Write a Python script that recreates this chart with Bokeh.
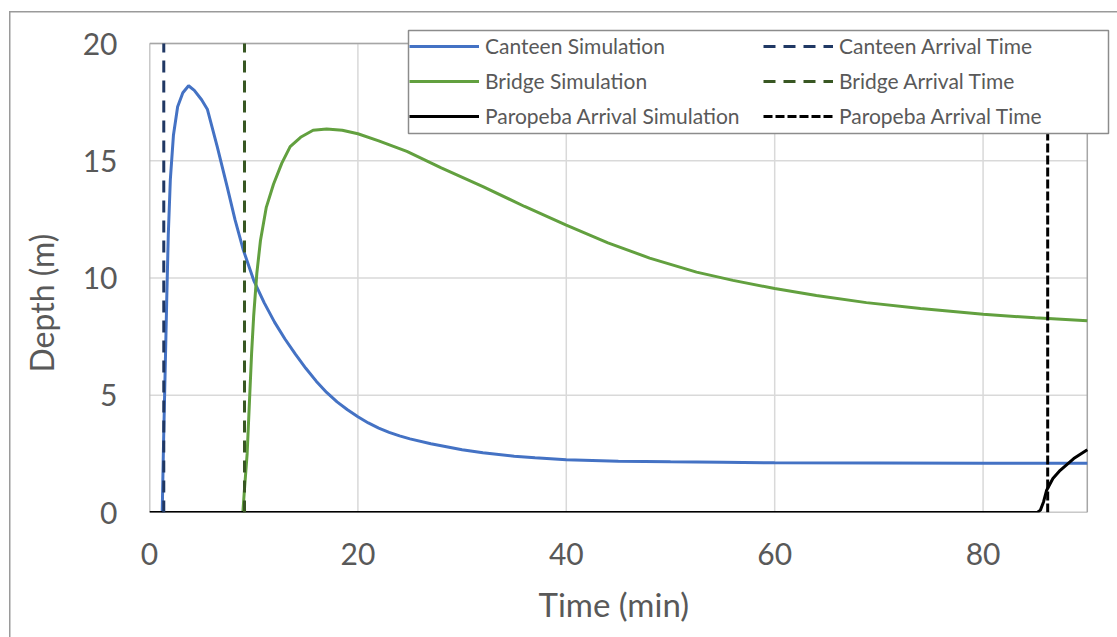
from bokeh.plotting import figure
from bokeh.models import Legend, LegendItem, Range1d, FixedTicker, BoxAnnotation, Title
from bokeh.embed import file_html
from bokeh.resources import INLINE

# ---- data ----
canteen_t = [1.22, 1.35, 1.5, 1.65, 1.8, 2.0, 2.3, 2.7, 3.2, 3.75, 4.3, 5.0, 5.55, 6.5, 7.45, 8.2, 9.0,
             10.0, 11.0, 12.0, 13.0, 14.0, 15.0, 16.0, 17.0, 18.0, 19.0, 20.0, 21.0, 22.0, 23.0, 24.0,
             25.0, 27.0, 30.0, 32.0, 35.0, 37.0, 40.0, 45.0, 50.0, 55.0, 60.0, 70.0, 80.0, 90.0]
canteen_d = [0.0, 3.0, 6.0, 9.0, 11.8, 14.2, 16.1, 17.3, 17.9, 18.2, 18.0, 17.6, 17.2, 15.6, 13.9, 12.5, 11.2,
             9.9, 8.95, 8.12, 7.4, 6.75, 6.15, 5.6, 5.12, 4.72, 4.38, 4.08, 3.82, 3.6, 3.42, 3.27,
             3.14, 2.93, 2.68, 2.55, 2.4, 2.33, 2.25, 2.19, 2.16, 2.14, 2.12, 2.11, 2.1, 2.1]

bridge_t = [8.96, 9.1, 9.37, 9.6, 9.8, 10.0, 10.3, 10.65, 11.2, 11.9, 12.7, 13.5, 14.5, 15.7, 17.0,
            18.5, 20.0, 22.0, 24.7, 28.0, 32.0, 36.0, 40.0, 44.0, 48.0, 52.5, 56.0, 60.0, 64.0,
            68.8, 74.0, 80.0, 85.0, 90.0]
bridge_d = [0.0, 0.9, 2.5, 4.8, 6.8, 8.4, 10.2, 11.6, 13.0, 14.0, 14.9, 15.6, 16.0, 16.3, 16.35,
            16.3, 16.15, 15.85, 15.4, 14.7, 13.9, 13.05, 12.25, 11.5, 10.85, 10.25, 9.9, 9.55, 9.25,
            8.95, 8.7, 8.45, 8.3, 8.18]

paropeba_t = [0.0, 85.2, 85.5, 85.8, 86.1, 86.7, 87.4, 88.7, 90.0]
paropeba_d = [0.0, 0.0, 0.1, 0.45, 0.95, 1.45, 1.8, 2.3, 2.68]

canteen_arrival = 1.37
bridge_arrival = 9.12
paropeba_arrival = 86.2

x_ticks = [0, 20, 40, 60, 80]
y_ticks = [0, 5, 10, 15, 20]
x_max = 90
y_max = 20

FONT = "Lato"
TXT = "#595959"

# ---- layout constants (pixels) ----
W, H = 1117, 637
FRAME_L, FRAME_R, FRAME_T, FRAME_B = 149, 1112, 28, 512
X_END, Y_END = 92.42, 20.64
PX_X = (FRAME_R - FRAME_L) / X_END
PX_Y = (FRAME_B - FRAME_T) / Y_END

p = figure(width=W, height=H, output_backend="svg", toolbar_location=None,
           x_range=Range1d(0, X_END), y_range=Range1d(0, Y_END),
           min_border_left=FRAME_L, min_border_right=W - FRAME_R,
           min_border_top=FRAME_T, min_border_bottom=H - FRAME_B)
# outer chart border (left and top gray lines) drawn behind a transparent border area
p.styles = {
    "background-color": "white",
    "background-image": "linear-gradient(#9a9a9a, #9a9a9a), linear-gradient(#9a9a9a, #9a9a9a)",
    "background-repeat": "no-repeat",
    "background-position": "9px 11px, 9px 11px",
    "background-size": "1.5px 100%, 100% 1.5px",
}

p.outline_line_color = None
p.background_fill_color = "white"
p.border_fill_color = None
p.xgrid.grid_line_color = None
p.ygrid.grid_line_color = None
p.xaxis.ticker = FixedTicker(ticks=x_ticks)
p.yaxis.ticker = FixedTicker(ticks=y_ticks)

for ax in (p.xaxis, p.yaxis):
    ax.axis_line_color = None
    ax.major_tick_line_color = None
    ax.minor_tick_line_color = None
    ax.major_label_text_font = FONT
    ax.major_label_text_font_size = "30px"
    ax.major_label_text_color = TXT

p.xaxis.major_label_standoff = 24
p.yaxis.major_label_standoff = 26

# axis titles as Titles so they can sit where the reference has them
tx = Title(text="Time (min)", align="left", offset=538 - FRAME_L, standoff=28,
           text_font=FONT, text_font_size="33px", text_font_style="normal", text_color=TXT)
p.add_layout(tx, "below")
ty = Title(text="Depth (m)", align="left", offset=FRAME_B - 372, standoff=38,
           text_font=FONT, text_font_size="32px", text_font_style="normal", text_color=TXT)
p.add_layout(ty, "left")

# grid lines (light) and plot-area border (gray)
p.segment(x0=x_ticks, y0=[0] * len(x_ticks), x1=x_ticks, y1=[y_max] * len(x_ticks),
          line_color="#D9D9D9", line_width=1.5)
p.segment(x0=[0] * len(y_ticks), y0=y_ticks, x1=[x_max] * len(y_ticks), y1=y_ticks,
          line_color="#D9D9D9", line_width=1.5)
p.segment(x0=[0, 0, x_max, 0], y0=[0, y_max, 0, 0], x1=[0, x_max, x_max, x_max],
          y1=[y_max, y_max, y_max, 0], line_color="#A6A6A6", line_width=1.5)

LW = 3
r_cs = p.line(canteen_t, canteen_d, line_color="#4472C4", line_width=LW)
r_bs = p.line(bridge_t, bridge_d, line_color="#62A03F", line_width=LW)
r_ps = p.line(paropeba_t, paropeba_d, line_color="black", line_width=LW)

r_ca = p.line([canteen_arrival, canteen_arrival], [0, y_max], line_color="#203864", line_width=LW,
              line_dash="12 8")
r_ba = p.line([bridge_arrival, bridge_arrival], [0, y_max], line_color="#385723", line_width=LW,
              line_dash="12 8")
r_pa = p.line([paropeba_arrival, paropeba_arrival], [0, y_max], line_color="black", line_width=LW,
              line_dash="9 3")

# legend box (pixels 408..1108 x 30..133) converted to the plot's coordinates
BOX_L, BOX_R, BOX_T, BOX_B = 408, 1108, 30, 133
box = BoxAnnotation(left=(BOX_L - FRAME_L) / PX_X, right=(BOX_R - FRAME_L) / PX_X,
                    top=(FRAME_B - BOX_T) / PX_Y, bottom=(FRAME_B - BOX_B) / PX_Y,
                    fill_color="white", fill_alpha=1.0, line_color="#8C8C8C", line_width=1.5,
                    line_alpha=1.0)
p.add_layout(box)


def make_legend(items, x_px):
    lg = Legend(items=items, location=(x_px - FRAME_L, FRAME_B - BOX_B + 5))
    lg.label_text_font = FONT
    lg.label_text_font_size = "21px"
    lg.label_text_color = TXT
    lg.glyph_width = 70
    lg.glyph_height = 24
    lg.label_height = 24
    lg.label_standoff = 6
    lg.spacing = 10
    lg.padding = 6
    lg.margin = 0
    lg.border_line_color = None
    lg.background_fill_alpha = 0
    return lg


leg1 = make_legend([
    LegendItem(label="Canteen Simulation", renderers=[r_cs]),
    LegendItem(label="Bridge Simulation", renderers=[r_bs]),
    LegendItem(label="Paropeba Arrival Simulation", renderers=[r_ps]),
], 409)
leg2 = make_legend([
    LegendItem(label="Canteen Arrival Time", renderers=[r_ca]),
    LegendItem(label="Bridge Arrival Time", renderers=[r_ba]),
    LegendItem(label="Paropeba Arrival Time", renderers=[r_pa]),
], 763)
p.add_layout(leg1, "center")
p.add_layout(leg2, "center")

open("out.html", "w").write(file_html(p, INLINE))
